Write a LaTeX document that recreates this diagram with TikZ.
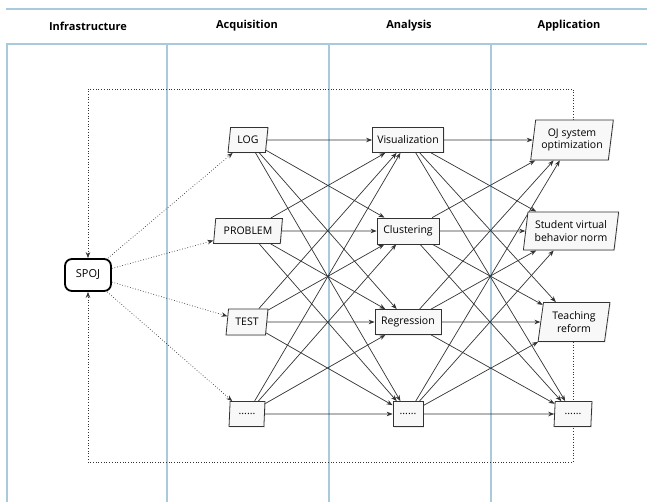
\documentclass[tikz,border=0pt]{standalone}
\usepackage{fontspec}
\setmainfont{Open Sans}
\usetikzlibrary{shapes.geometric,arrows.meta,shadows}
\definecolor{lane}{HTML}{A9C9DD}
\definecolor{edgec}{HTML}{333333}
\definecolor{nfill}{HTML}{F8F8F8}
\pgfdeclarelayer{bg}
\pgfsetlayers{bg,main}
\begin{document}
\begin{tikzpicture}[x=1pt,y=-1pt,
  lanel/.style={draw=lane,line width=1.3pt},
  hdr/.style={font=\fontsize{11}{13}\selectfont\bfseries},
  base/.style={draw=edgec,fill=nfill,line width=0.8pt,font=\fontsize{10.5}{12.5}\selectfont,inner sep=1pt,align=center,
    drop shadow={opacity=0.15,shadow xshift=1pt,shadow yshift=-1pt}},
  rbox/.style={base,rectangle},
  pbox/.style={base,trapezium,trapezium left angle=80,trapezium right angle=100,trapezium stretches=true},
  arr/.style={draw=edgec,line width=0.7pt,-{Stealth[length=6pt,width=4.5pt]}},
  darr/.style={draw=edgec,line width=0.7pt,dotted,-{Stealth[length=6pt,width=4.5pt]}},
]
\useasboundingbox (0,0) rectangle (647,502);
% headers
\node[hdr] (h1) at (88,26) {Infrastructure};
\node[hdr] (h2) at (247,26) {Acquisition};
\node[hdr] (h3) at (409,26) {Analysis};
\node[hdr] (h4) at (569,26) {Application};
% SPOJ
\node[draw=black,line width=1.8pt,rounded corners=7pt,fill=white,minimum width=46pt,minimum height=32pt,inner sep=1pt,font=\fontsize{11}{13}\selectfont] (spoj) at (88,275) {SPOJ};
% acquisition
\node[pbox,minimum width=40pt,minimum height=25pt] (a1) at (248,140) {LOG};
\node[pbox,minimum width=69pt,minimum height=25pt] (a2) at (248,231) {PROBLEM};
\node[pbox,minimum width=42pt,minimum height=26pt] (a3) at (247,322) {TEST};
\node[pbox,minimum width=36pt,minimum height=25pt] (a4) at (247,414) {......};
% analysis
\node[rbox,minimum width=71pt,minimum height=25pt] (b1) at (408,140) {Visualization};
\node[rbox,minimum width=62pt,minimum height=26pt] (b2) at (408,231) {Clustering};
\node[rbox,minimum width=66pt,minimum height=25pt] (b3) at (408,322) {Regression};
\node[rbox,minimum width=30pt,minimum height=25pt] (b4) at (408,414) {......};
% application
\node[pbox,minimum width=83pt,minimum height=40pt] (c1) at (572,140) {OJ system\\optimization};
\node[pbox,minimum width=96pt,minimum height=38pt] (c2) at (571,231) {Student virtual\\behavior norm};
\node[pbox,minimum width=72pt,minimum height=39pt] (c3) at (574,322) {Teaching\\reform};
\node[pbox,minimum width=38pt,minimum height=25pt] (c4) at (573,414) {......};
\coordinate (tl) at (88,89);
\coordinate (bl) at (88,462);
\begin{pgfonlayer}{bg}
  \draw[lanel] (6,9) -- (647,9);
  \draw[lanel] (6,44) -- (647,44);
  \foreach \xx in {7,167,329,491} \draw[lanel] (\xx,44) -- (\xx,502);
  \draw[darr] (573,120) |- (tl) -- (spoj.north);
  \draw[darr] (573,342) |- (bl) -- (spoj.south);
  \foreach \t in {a1,a2,a3,a4} \draw[darr] (spoj) -- (\t);
  \foreach \s in {a1,a2,a3,a4} \foreach \t in {b1,b2,b3,b4} \draw[arr] (\s) -- (\t);
  \foreach \s in {b1,b2,b3,b4} \foreach \t in {c1,c2,c3,c4} \draw[arr] (\s) -- (\t);
\end{pgfonlayer}
\end{tikzpicture}
\end{document}
